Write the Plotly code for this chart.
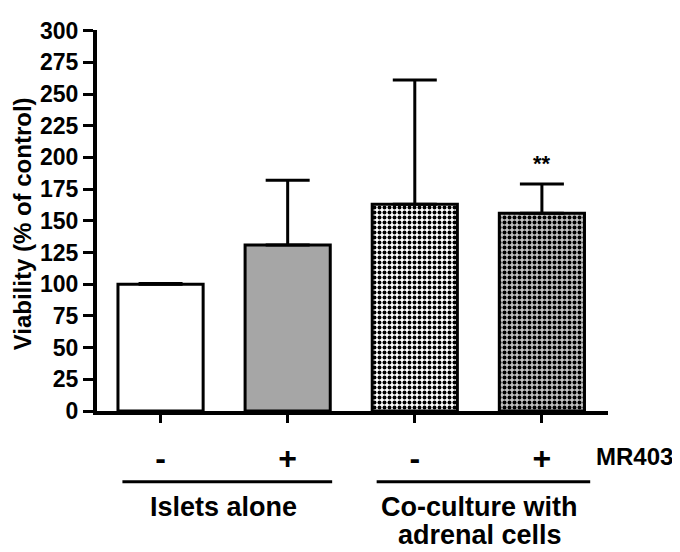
import plotly.graph_objects as go

# ---- data ----
positions = [0, 1, 2, 3]
mr403_labels = ["-", "+", "-", "+"]
viability = [100, 131, 163, 156]
sd_upper = [0.5, 51, 98, 23]
bar_colors = ["white", "#a6a6a6", "white", "#c2c2c2"]
pattern_shapes = ["", "", ".", "."]
significance = ["", "", "", "**"]
group_lines = [["Islets alone"], ["Co-culture with", "adrenal cells"]]
group_spans = [(-0.3, 1.35), (1.7, 3.38)]
y_ticks = list(range(0, 301, 25))

FONT = "Liberation Sans"
L, R, T, B = 89, 80, 10, 149
PW = 680 - L - R
PH = 552 - T - B
AXIS_Y = T + PH  # pixel row of the x axis


def py(pixel_row):
    """paper y for a pixel row below the plot"""
    return -(pixel_row - AXIS_Y) / PH


fig = go.Figure()
for xp, v, e, col, shp in zip(positions, viability, sd_upper, bar_colors, pattern_shapes):
    fig.add_trace(go.Bar(
        x=[xp],
        y=[v],
        width=0.67,
        marker=dict(
            color=col,
            line=dict(color="black", width=3),
            pattern=dict(shape=shp, fgcolor="black", bgcolor=col, fgopacity=1,
                         size=5, solidity=0.5, fillmode="overlay"),
        ),
        error_y=dict(type="data", symmetric=False, array=[e], arrayminus=[0],
                     color="black", thickness=3, width=22),
        showlegend=False,
    ))

# significance stars
for xp, v, e, s in zip(positions, viability, sd_upper, significance):
    if s:
        fig.add_annotation(x=xp, y=v + e, text="<b>" + s + "</b>", showarrow=False,
                           yanchor="bottom", yshift=6,
                           font=dict(family=FONT, size=22, color="black"))

# group underlines and labels
for (x0, x1), lines in zip(group_spans, group_lines):
    fig.add_shape(type="line", xref="x", yref="paper", x0=x0, x1=x1,
                  y0=py(476), y1=py(476), line=dict(color="black", width=3))
    for k, txt in enumerate(lines):
        fig.add_annotation(x=(x0 + x1) / 2 - 0.03, xref="x",
                           y=py(502 + 29 * k), yref="paper",
                           text="<b>" + txt + "</b>", showarrow=False,
                           yanchor="middle", align="center",
                           font=dict(family=FONT, size=27, color="black"))

fig.add_annotation(x=(626 - L) / PW, xref="paper", y=py(450), yref="paper",
                   xanchor="center", yanchor="middle",
                   text="<b>MR403</b>", showarrow=False,
                   font=dict(family=FONT, size=24, color="black"))

# y-axis title
fig.add_annotation(x=(14 - L) / PW, xref="paper", y=0.49, yref="paper",
                   text="<b>Viability (% of control)</b>", textangle=-90,
                   showarrow=False, xanchor="center", yanchor="middle",
                   font=dict(family=FONT, size=24, color="black"))

fig.update_layout(
    width=680, height=552,
    margin=dict(l=L, r=R, t=T, b=B),
    paper_bgcolor="white", plot_bgcolor="white",
    barmode="overlay",
    font=dict(family=FONT, color="black"),
)
fig.update_xaxes(
    range=[-0.5, 3.52], tickvals=positions, ticktext=["<b>" + t + "</b>" for t in mr403_labels],
    showline=True, linewidth=4, linecolor="black",
    ticks="outside", ticklen=8, tickwidth=3, tickcolor="black",
    tickfont=dict(family=FONT, size=32, color="black"),
    ticklabelstandoff=8,
    showgrid=False, zeroline=False,
)
fig.update_yaxes(
    range=[0, 300.5], tickvals=y_ticks,
    showline=True, linewidth=4, linecolor="black",
    ticks="outside", ticklen=10, tickwidth=3, tickcolor="black",
    tickfont=dict(family=FONT, size=23, color="black", weight="bold"),
    ticklabeloverflow="allow",
    showgrid=False, zeroline=False,
)

fig.write_html("out.html")
